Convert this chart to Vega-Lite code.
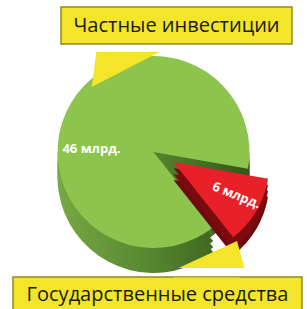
{
  "$schema": "https://vega.github.io/schema/vega-lite/v6.json",
  "padding": {"top": 6, "left": 0, "right": 0, "bottom": 0},
  "background": "white",
  "spacing": 0,
  "config": {"view": {"stroke": null}, "concat": {"spacing": 0}},
  "datasets": {
    "pie": [
      {"name": "Государственные средства", "value": 6, "label": "6 млрд."},
      {"name": "Частные инвестиции", "value": 46, "label": "46 млрд."}
    ]
  },
  "vconcat": [
    {
      "spacing": 0,
      "hconcat": [
        {"width": 60, "height": 37, "data": {"values": []}, "mark": "text", "encoding": {}},
        {
          "width": 231, "height": 37,
          "view": {"fill": "#f2e52a", "stroke": "#8f8a1c", "strokeWidth": 1.5},
          "data": {"values": [{"t": "Частные инвестиции"}]},
          "mark": {"type": "text", "font": "Open Sans", "fontSize": 20, "color": "#1a1a1a", "baseline": "middle", "align": "center"},
          "encoding": {"text": {"field": "t"}}
        }
      ]
    },
    {
      "width": 307, "height": 230,
      "data": {"name": "pie"},
      "encoding": {
        "theta": {"field": "value", "type": "quantitative", "stack": true, "scale": {"range": [1.745, 8.029]}}
      },
      "layer": [
        {"mark": {"type": "arc", "outerRadius": 96, "yOffset": 0}, "encoding": {"fill": {"condition": {"test": "datum.name === 'Государственные средства'", "value": "#3d6320"}, "value": null}}},
        {"mark": {"type": "arc", "outerRadius": 96, "yOffset": 17}, "encoding": {"fill": {"condition": {"test": "datum.name === 'Частные инвестиции'", "value": {"gradient": "linear", "x1": 0, "x2": 1, "y1": 0, "y2": 0, "stops": [{"offset": 0, "color": "#76a843"}, {"offset": 0.5, "color": "#55852f"}, {"offset": 1, "color": "#34561b"}]}}, "value": null}}},
        {"mark": {"type": "arc", "outerRadius": 96, "yOffset": 12}, "encoding": {"fill": {"condition": {"test": "datum.name === 'Частные инвестиции'", "value": {"gradient": "linear", "x1": 0, "x2": 1, "y1": 0, "y2": 0, "stops": [{"offset": 0, "color": "#76a843"}, {"offset": 0.5, "color": "#55852f"}, {"offset": 1, "color": "#34561b"}]}}, "value": null}}},
        {"mark": {"type": "arc", "outerRadius": 96, "yOffset": 6}, "encoding": {"fill": {"condition": {"test": "datum.name === 'Частные инвестиции'", "value": {"gradient": "linear", "x1": 0, "x2": 1, "y1": 0, "y2": 0, "stops": [{"offset": 0, "color": "#76a843"}, {"offset": 0.5, "color": "#55852f"}, {"offset": 1, "color": "#34561b"}]}}, "value": null}}},
        {"mark": {"type": "arc", "outerRadius": 96, "yOffset": 0}, "encoding": {"fill": {"condition": {"test": "datum.name === 'Частные инвестиции'", "value": {"gradient": "linear", "x1": 0, "x2": 1, "y1": 0, "y2": 0, "stops": [{"offset": 0, "color": "#76a843"}, {"offset": 0.5, "color": "#55852f"}, {"offset": 1, "color": "#34561b"}]}}, "value": null}}},
        {"mark": {"type": "arc", "outerRadius": 96, "yOffset": -8}, "encoding": {"fill": {"condition": {"test": "datum.name === 'Частные инвестиции'", "value": "#8dc44e"}, "value": null}}},
        {"mark": {"type": "arc", "outerRadius": 96, "xOffset": 20, "yOffset": 20}, "encoding": {"fill": {"condition": {"test": "datum.name === 'Государственные средства'", "value": "#6e0a0b"}, "value": null}}},
        {"mark": {"type": "arc", "outerRadius": 96, "xOffset": 20, "yOffset": 14}, "encoding": {"fill": {"condition": {"test": "datum.name === 'Государственные средства'", "value": "#7a0c0d"}, "value": null}}},
        {"mark": {"type": "arc", "outerRadius": 96, "xOffset": 20, "yOffset": 8}, "encoding": {"fill": {"condition": {"test": "datum.name === 'Государственные средства'", "value": "#7a0c0d"}, "value": null}}},
        {"mark": {"type": "arc", "outerRadius": 96, "xOffset": 20, "yOffset": 2}, "encoding": {"fill": {"condition": {"test": "datum.name === 'Государственные средства'", "value": "#e8202a"}, "value": null}}},
        {
          "mark": {"type": "text", "radius": 55, "xOffset": -8, "yOffset": -21, "font": "Open Sans", "fontWeight": "bold", "fontSize": 13, "color": "white"},
          "encoding": {"text": {"condition": {"test": "datum.name === 'Частные инвестиции'", "field": "label"}, "value": ""}}
        },
        {
          "mark": {"type": "text", "radius": 62, "xOffset": 22, "yOffset": 47, "angle": 22, "font": "Open Sans", "fontWeight": "bold", "fontSize": 13, "color": "white"},
          "encoding": {"text": {"condition": {"test": "datum.name === 'Государственные средства'", "field": "label"}, "value": ""}}
        },
        {
          "data": {"values": [{"k": "top"}]},
          "mark": {"type": "point", "shape": "M -0.571 -1.08 L -0.618 -0.731 L 0.061 -1.08 Z", "size": 40000, "filled": true, "fill": "#f2e52a", "strokeWidth": 0, "opacity": 1, "fillOpacity": 1},
          "encoding": {"theta": null}
        },
        {
          "data": {"values": [{"k": "bottom"}]},
          "mark": {"type": "point", "shape": "M 0.25 1.08 L 0.835 0.811 L 0.91 1.08 Z", "size": 40000, "filled": true, "fill": "#f2e52a", "strokeWidth": 0, "opacity": 1, "fillOpacity": 1},
          "encoding": {"theta": null}
        }
      ]
    },
    {
      "spacing": 0,
      "hconcat": [
        {"width": 12, "height": 36, "data": {"values": []}, "mark": "text", "encoding": {}},
        {
          "width": 289, "height": 40,
          "view": {"fill": "#f2e52a", "stroke": "#8f8a1c", "strokeWidth": 1.5},
          "data": {"values": [{"t": "Государственные средства"}]},
          "layer": [
            {
              "mark": {"type": "point", "shape": "M 0.162 -0.196 L 0.819 -0.196 L 0.819 -0.16 L 0.162 -0.16 Z", "size": 40000, "filled": true, "fill": "#f2e52a", "strokeWidth": 0, "opacity": 1, "fillOpacity": 1},
              "encoding": {}
            },
            {
              "mark": {"type": "text", "font": "Open Sans", "fontSize": 20, "color": "#1a1a1a", "baseline": "middle", "align": "center", "yOffset": -2},
              "encoding": {"text": {"field": "t"}}
            }
          ]
        }
      ]
    }
  ]
}
